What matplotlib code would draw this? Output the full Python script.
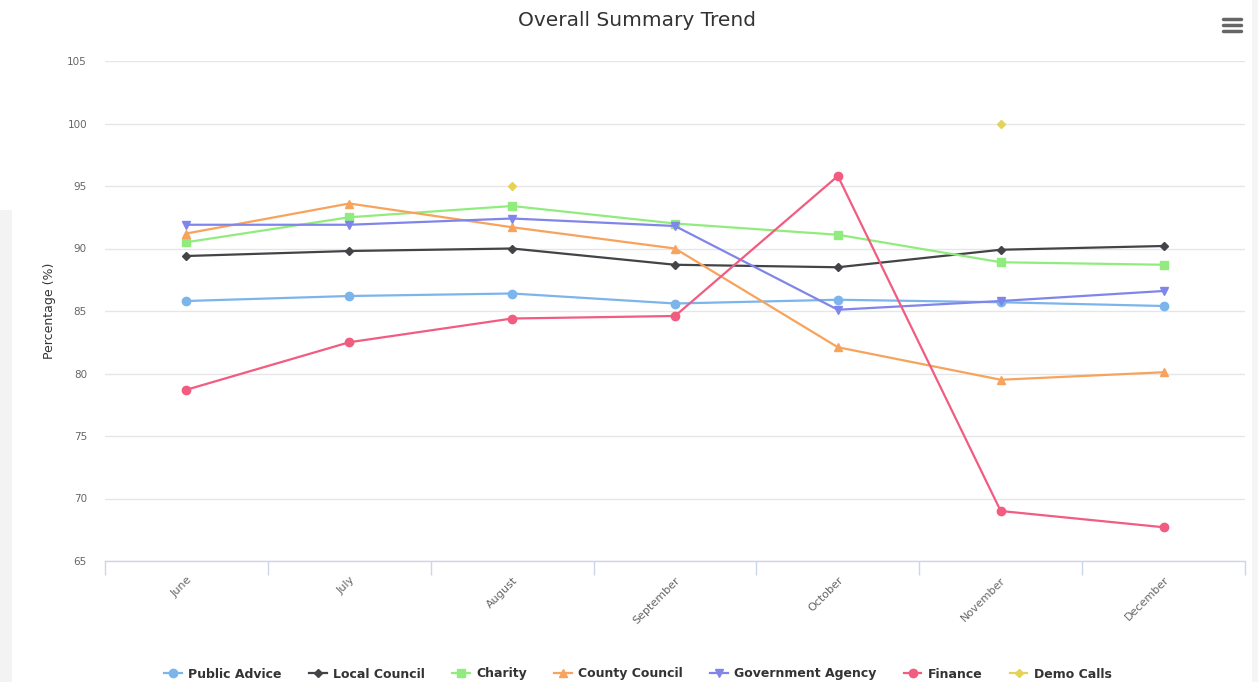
import numpy as np
import matplotlib
matplotlib.use("Agg")
import matplotlib.pyplot as plt
from matplotlib.lines import Line2D
from matplotlib.patches import Rectangle

months = ["June", "July", "August", "September", "October", "November", "December"]
public_advice = [85.8, 86.2, 86.4, 85.6, 85.9, 85.7, 85.4]
local_council = [89.4, 89.8, 90.0, 88.7, 88.5, 89.9, 90.2]
charity = [90.5, 92.5, 93.4, 92.0, 91.1, 88.9, 88.7]
county_council = [91.2, 93.6, 91.7, 90.0, 82.1, 79.5, 80.1]
government_agency = [91.9, 91.9, 92.4, 91.8, 85.1, 85.8, 86.6]
finance = [78.7, 82.5, 84.4, 84.6, 95.8, 69.0, 67.7]
demo_calls = [np.nan, np.nan, 95.0, np.nan, np.nan, 100.0, np.nan]

series_names = ["Public Advice", "Local Council", "Charity", "County Council",
                "Government Agency", "Finance", "Demo Calls"]
series_values = [public_advice, local_council, charity, county_council,
                 government_agency, finance, demo_calls]
colors = ["#7cb5ec", "#434348", "#90ed7d", "#f7a35c", "#8085e9", "#f15c80", "#e4d354"]
markers = ["o", "D", "s", "^", "v", "o", "D"]
msizes = [6, 4.5, 5.5, 6, 6, 6, 4.5]

y_ticks = [65, 70, 75, 80, 85, 90, 95, 100, 105]

fig = plt.figure(figsize=(12.58, 6.82), dpi=100)
fig.patch.set_facecolor("white")

# faint left strip and right edge
fig.patches.append(Rectangle((0, 0), 12 / 1258, 1 - 210 / 682, transform=fig.transFigure,
                             facecolor="#f3f3f3", edgecolor="none", zorder=0))
fig.patches.append(Rectangle((1252 / 1258, 0), 6 / 1258, 1, transform=fig.transFigure,
                             facecolor="#f5f5f5", edgecolor="none", zorder=0))

ax = fig.add_axes([105 / 1258, 1 - 561 / 682, (1245 - 105) / 1258, 500 / 682])
x = np.arange(len(months))

for name, vals, c, m, ms in zip(series_names, series_values, colors, markers, msizes):
    ax.plot(x, vals, color=c, marker=m, markersize=ms, linewidth=1.6,
            label=name, zorder=3, clip_on=False)

ax.set_xlim(-0.5, len(months) - 0.5)
ax.set_ylim(65, 105)
ax.set_yticks(y_ticks)
ax.set_yticklabels([str(v) for v in y_ticks], fontsize=7.5, color="#666666")
ax.yaxis.grid(True, color="#e6e6e6", linewidth=1)
ax.set_axisbelow(True)
ax.tick_params(axis="y", length=0, pad=13)

# x ticks: labels at categories, tick marks between categories
ax.set_xticks(x)
ax.set_xticklabels(months, rotation=45, ha="right", rotation_mode="anchor",
                   fontsize=8, color="#666666")
ax.tick_params(axis="x", which="major", length=0, pad=10)
ax.set_xticks(np.arange(-0.5, len(months) + 0.5, 1), minor=True)
ax.tick_params(axis="x", which="minor", length=10, color="#ccd6eb", width=1)

for s in ["top", "right", "left"]:
    ax.spines[s].set_visible(False)
ax.spines["bottom"].set_color("#ccd6eb")
ax.spines["bottom"].set_linewidth(1)

ax.set_ylabel("Percentage (%)", fontsize=9, color="#333333", labelpad=8)

fig.text(637 / 1258, 1 - 20 / 682, "Overall Summary Trend", ha="center", va="center",
         fontsize=14.5, color="#333333")

# hamburger icon
for yy in [18.5, 24.5, 31]:
    fig.add_artist(Line2D([1223 / 1258, 1241 / 1258], [1 - yy / 682, 1 - yy / 682],
                          transform=fig.transFigure, color="#666666", linewidth=2.5,
                          solid_capstyle="round"))

handles, labels = ax.get_legend_handles_labels()
leg = fig.legend(handles, labels, loc="center", bbox_to_anchor=(638 / 1258, 1 - 674 / 682),
                 ncol=7, frameon=False, handlelength=1.4, handletextpad=0.5,
                 columnspacing=2.2, prop={"size": 9, "weight": "bold"})
for t in leg.get_texts():
    t.set_color("#333333")

fig.savefig("out.png", dpi=100, facecolor="white")
